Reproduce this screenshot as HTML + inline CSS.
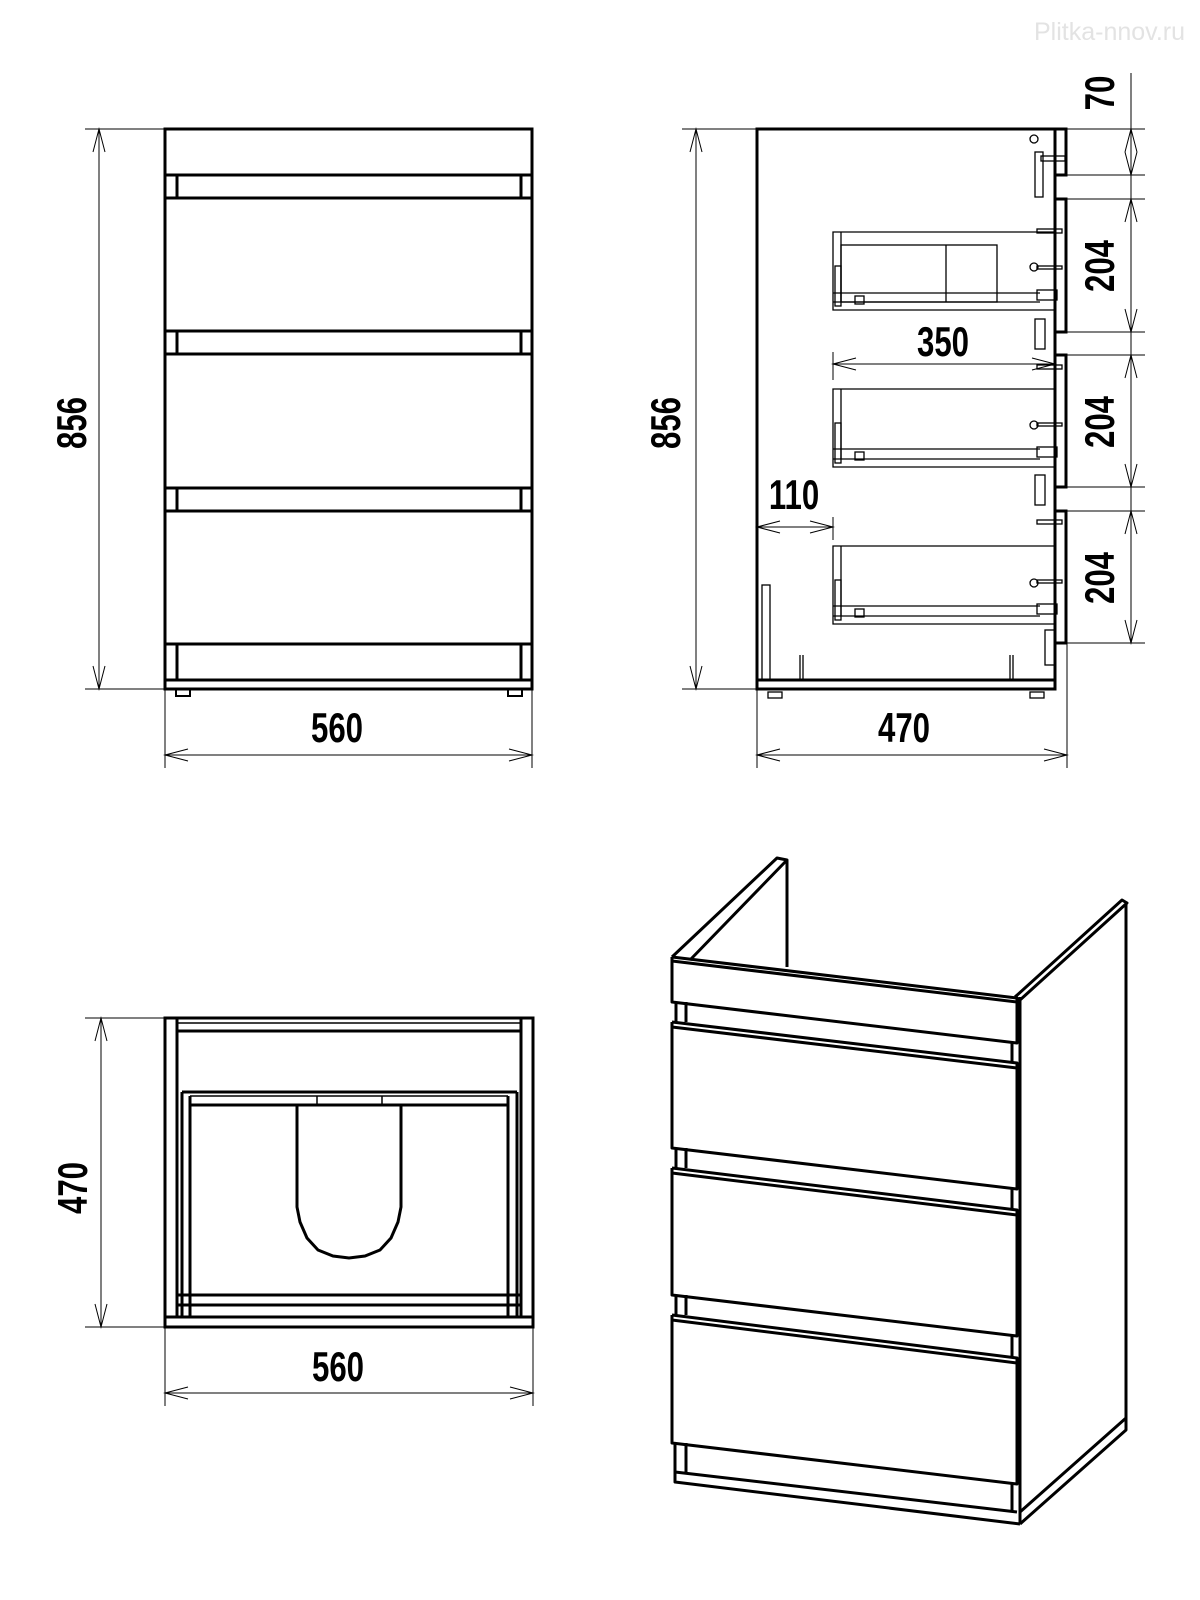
<!DOCTYPE html>
<html><head><meta charset="utf-8"><style>
html,body{margin:0;padding:0;background:#fff}
svg{display:block}
text{font-family:"Liberation Sans Narrow","Liberation Sans",sans-serif;font-weight:bold;fill:#000}
.d{font-size:40px}
</style></head><body>
<svg width="1200" height="1600" viewBox="0 0 1200 1600" xmlns="http://www.w3.org/2000/svg">
<text x="1185" y="40" text-anchor="end" style="font-weight:normal;font-size:25px;fill:#e3e3e3">Plitka-nnov.ru</text>

<!-- ===== FRONT VIEW ===== -->
<g fill="none" stroke="#000" stroke-width="3">
<rect x="165" y="129" width="367" height="560"/>
<line x1="165" y1="175" x2="532" y2="175"/>
<rect x="165" y="198" width="367" height="133"/>
<rect x="165" y="354" width="367" height="134"/>
<rect x="165" y="511" width="367" height="133"/>
<line x1="165" y1="680" x2="532" y2="680"/>
<line x1="177" y1="175" x2="177" y2="198"/><line x1="521" y1="175" x2="521" y2="198"/>
<line x1="177" y1="331" x2="177" y2="354"/><line x1="521" y1="331" x2="521" y2="354"/>
<line x1="177" y1="488" x2="177" y2="511"/><line x1="521" y1="488" x2="521" y2="511"/>
<line x1="177" y1="644" x2="177" y2="680"/><line x1="521" y1="644" x2="521" y2="680"/>
</g>
<g fill="none" stroke="#000" stroke-width="2">
<rect x="176" y="689" width="14" height="7"/><rect x="508" y="689" width="14" height="7"/>
</g>
<g fill="none" stroke="#000" stroke-width="1">
<line x1="85" y1="129" x2="165" y2="129"/><line x1="85" y1="689" x2="165" y2="689"/>
<line x1="99" y1="129" x2="99" y2="689"/>
<polyline points="93,152 99,129 105,152"/><polyline points="93,666 99,689 105,666"/>
<line x1="165" y1="689" x2="165" y2="768"/><line x1="532" y1="689" x2="532" y2="768"/>
<line x1="165" y1="755" x2="532" y2="755"/>
<polyline points="188,749 165,755 188,761"/><polyline points="509,749 532,755 509,761"/>
</g>
<text class="d" transform="translate(337,742) scale(0.78,1.05)" text-anchor="middle">560</text>
<text class="d" transform="translate(86,423) rotate(-90) scale(0.78,1.05)" text-anchor="middle">856</text>

<!-- ===== SIDE VIEW ===== -->
<g fill="none" stroke="#000" stroke-width="3">
<polyline points="1055,129 757,129 757,689 1055,689 1055,129"/>
<line x1="757" y1="680" x2="1055" y2="680"/>
<rect x="1055" y="129" width="11" height="46"/>
<rect x="1055" y="199" width="11" height="133"/>
<rect x="1055" y="355" width="11" height="132"/>
<rect x="1055" y="511" width="11" height="132"/>
</g>
<g fill="none" stroke="#000" stroke-width="1.3">
<polyline points="1055,232 833,232 833,310 1055,310"/>
<line x1="841" y1="232" x2="841" y2="302"/>
<line x1="833" y1="293" x2="1040" y2="293"/><line x1="833" y1="302" x2="1040" y2="302"/>
<rect x="841" y="245" width="156" height="57"/><line x1="946" y1="245" x2="946" y2="302"/>
<polyline points="1055,389 833,389 833,467 1055,467"/>
<line x1="841" y1="389" x2="841" y2="459"/>
<line x1="833" y1="449" x2="1040" y2="449"/><line x1="833" y1="459" x2="1040" y2="459"/>
<polyline points="1055,546 833,546 833,624 1055,624"/>
<line x1="841" y1="546" x2="841" y2="616"/>
<line x1="833" y1="606" x2="1040" y2="606"/><line x1="833" y1="616" x2="1040" y2="616"/>
<rect x="1035" y="152" width="8" height="45"/><rect x="1041" y="156" width="24" height="5"/>
<rect x="1035" y="319" width="10" height="30"/><rect x="1035" y="475" width="10" height="30"/>
<rect x="1045" y="630" width="10" height="35"/>
<rect x="762" y="585" width="8" height="95"/>
<line x1="800" y1="655" x2="800" y2="680"/><line x1="803" y1="655" x2="803" y2="680"/>
<line x1="1010" y1="655" x2="1010" y2="680"/><line x1="1013" y1="655" x2="1013" y2="680"/>
<rect x="1037" y="229" width="25" height="4"/><rect x="1037" y="365" width="25" height="4"/><rect x="1037" y="520" width="25" height="4"/>
<rect x="1037" y="266" width="25" height="3"/><rect x="1037" y="423" width="25" height="3"/><rect x="1037" y="580" width="25" height="3"/>
<rect x="1037" y="290" width="20" height="10"/><rect x="1037" y="447" width="20" height="10"/><rect x="1037" y="604" width="20" height="10"/>
<circle cx="1034" cy="139" r="4"/><circle cx="1034" cy="267" r="4"/><circle cx="1034" cy="425" r="4"/><circle cx="1034" cy="583" r="4"/>
<rect x="835" y="266" width="6" height="40"/><rect x="835" y="423" width="6" height="40"/><rect x="835" y="580" width="6" height="40"/>
<rect x="855" y="296" width="9" height="8"/><rect x="855" y="452" width="9" height="8"/><rect x="855" y="609" width="9" height="8"/>
<rect x="768" y="692" width="14" height="6"/><rect x="1030" y="692" width="14" height="6"/>
</g>
<g fill="none" stroke="#000" stroke-width="1">
<line x1="682" y1="129" x2="757" y2="129"/><line x1="682" y1="689" x2="757" y2="689"/>
<line x1="696" y1="129" x2="696" y2="689"/>
<polyline points="690,152 696,129 702,152"/><polyline points="690,666 696,689 702,666"/>
<line x1="757" y1="689" x2="757" y2="768"/><line x1="1067" y1="643" x2="1067" y2="768"/>
<line x1="757" y1="755" x2="1067" y2="755"/>
<polyline points="780,749 757,755 780,761"/><polyline points="1044,749 1067,755 1044,761"/>
<line x1="833" y1="352" x2="833" y2="380"/>
<line x1="833" y1="364" x2="1055" y2="364"/>
<polyline points="856,358 833,364 856,370"/><polyline points="1032,358 1055,364 1032,370"/>
<line x1="833" y1="517" x2="833" y2="540"/>
<line x1="757" y1="527" x2="833" y2="527"/>
<polyline points="780,521 757,527 780,533"/><polyline points="810,521 833,527 810,533"/>
<line x1="1131" y1="73" x2="1131" y2="643"/>
<line x1="1067" y1="129" x2="1145" y2="129"/><line x1="1067" y1="175" x2="1145" y2="175"/>
<line x1="1067" y1="199" x2="1145" y2="199"/><line x1="1067" y1="332" x2="1145" y2="332"/>
<line x1="1067" y1="355" x2="1145" y2="355"/><line x1="1067" y1="487" x2="1145" y2="487"/>
<line x1="1067" y1="511" x2="1145" y2="511"/><line x1="1067" y1="643" x2="1145" y2="643"/>
<polyline points="1125,152 1131,129 1137,152"/><polyline points="1125,152 1131,175 1137,152"/>
<polyline points="1125,222 1131,199 1137,222"/><polyline points="1125,309 1131,332 1137,309"/>
<polyline points="1125,378 1131,355 1137,378"/><polyline points="1125,464 1131,487 1137,464"/>
<polyline points="1125,534 1131,511 1137,534"/><polyline points="1125,620 1131,643 1137,620"/>
</g>
<text class="d" transform="translate(943,356) scale(0.78,1.05)" text-anchor="middle">350</text>
<text class="d" transform="translate(794,509) scale(0.78,1.05)" text-anchor="middle">110</text>
<text class="d" transform="translate(904,742) scale(0.78,1.05)" text-anchor="middle">470</text>
<text class="d" transform="translate(680,423) rotate(-90) scale(0.78,1.05)" text-anchor="middle">856</text>
<text class="d" transform="translate(1114,93) rotate(-90) scale(0.78,1.05)" text-anchor="middle">70</text>
<text class="d" transform="translate(1114,266) rotate(-90) scale(0.78,1.05)" text-anchor="middle">204</text>
<text class="d" transform="translate(1114,422) rotate(-90) scale(0.78,1.05)" text-anchor="middle">204</text>
<text class="d" transform="translate(1114,578) rotate(-90) scale(0.78,1.05)" text-anchor="middle">204</text>

<!-- ===== TOP VIEW ===== -->
<g fill="none" stroke="#000" stroke-width="3">
<rect x="165" y="1018" width="368" height="309"/>
<line x1="177" y1="1018" x2="177" y2="1317"/><line x1="521" y1="1018" x2="521" y2="1317"/>
<line x1="177" y1="1031" x2="521" y2="1031"/>
<line x1="165" y1="1317" x2="533" y2="1317"/>
<line x1="182" y1="1092" x2="517" y2="1092"/>
<line x1="182" y1="1092" x2="182" y2="1317"/><line x1="517" y1="1092" x2="517" y2="1317"/>
<line x1="190" y1="1096" x2="190" y2="1317"/><line x1="508" y1="1096" x2="508" y2="1317"/>
<line x1="190" y1="1105" x2="508" y2="1105"/>
<line x1="177" y1="1295" x2="521" y2="1295"/><line x1="177" y1="1305" x2="521" y2="1305"/>
<polyline points="297,1105 297,1207 300,1222 307,1238 318,1250 333,1256 349,1258 365,1256 380,1250 391,1238 398,1222 401,1207 401,1105"/>
</g>
<g fill="none" stroke="#000" stroke-width="1.5">
<line x1="177" y1="1023" x2="521" y2="1023"/>
<line x1="190" y1="1096" x2="508" y2="1096"/>
<line x1="317" y1="1096" x2="317" y2="1105"/><line x1="382" y1="1096" x2="382" y2="1105"/>
</g>
<g fill="none" stroke="#000" stroke-width="1">
<line x1="85" y1="1018" x2="165" y2="1018"/><line x1="85" y1="1327" x2="165" y2="1327"/>
<line x1="101" y1="1018" x2="101" y2="1327"/>
<polyline points="95,1041 101,1018 107,1041"/><polyline points="95,1304 101,1327 107,1304"/>
<line x1="165" y1="1327" x2="165" y2="1406"/><line x1="533" y1="1327" x2="533" y2="1406"/>
<line x1="165" y1="1393" x2="533" y2="1393"/>
<polyline points="188,1387 165,1393 188,1399"/><polyline points="510,1387 533,1393 510,1399"/>
</g>
<text class="d" transform="translate(338,1381) scale(0.78,1.05)" text-anchor="middle">560</text>
<text class="d" transform="translate(87,1188) rotate(-90) scale(0.78,1.05)" text-anchor="middle">470</text>

<!-- ===== 3D VIEW ===== -->
<g fill="none" stroke="#000" stroke-width="3" stroke-linejoin="round">
<polyline points="672,957 777,858 787,860 690,960"/>
<line x1="787" y1="860" x2="787" y2="967"/>
<polyline points="1015,997 1122,900 1127,903 1020,1000"/>
<line x1="1126" y1="903" x2="1126" y2="1418"/>
<line x1="1020" y1="997" x2="1020" y2="1524"/>
<polyline points="1020,1524 1126,1430 1126,1418 1020,1512"/>
<polyline points="672,957 1017,998 1017,1043 672,1002 672,957"/>
<line x1="672" y1="961" x2="1017" y2="1002"/>
<polyline points="672,1022 1017,1063 1017,1189 672,1148 672,1022"/>
<line x1="672" y1="1027" x2="1017" y2="1068"/>
<polyline points="672,1168 1017,1210 1017,1336 672,1295 672,1168"/>
<line x1="672" y1="1173" x2="1017" y2="1215"/>
<polyline points="672,1315 1017,1358 1017,1484 672,1443 672,1315"/>
<line x1="672" y1="1320" x2="1017" y2="1363"/>
<polyline points="675,1443 675,1482 1020,1524"/>
<line x1="675" y1="1472" x2="1017" y2="1512"/>
<line x1="686" y1="1002" x2="686" y2="1022"/><line x1="676" y1="1002" x2="676" y2="1022"/>
<line x1="686" y1="1148" x2="686" y2="1168"/><line x1="676" y1="1148" x2="676" y2="1168"/>
<line x1="686" y1="1295" x2="686" y2="1315"/><line x1="676" y1="1295" x2="676" y2="1315"/>
<line x1="686" y1="1443" x2="686" y2="1474"/>
<line x1="1012" y1="1043" x2="1012" y2="1063"/><line x1="1012" y1="1189" x2="1012" y2="1210"/>
<line x1="1012" y1="1336" x2="1012" y2="1358"/><line x1="1012" y1="1484" x2="1012" y2="1512"/>
</g>
</svg>
</body></html>
